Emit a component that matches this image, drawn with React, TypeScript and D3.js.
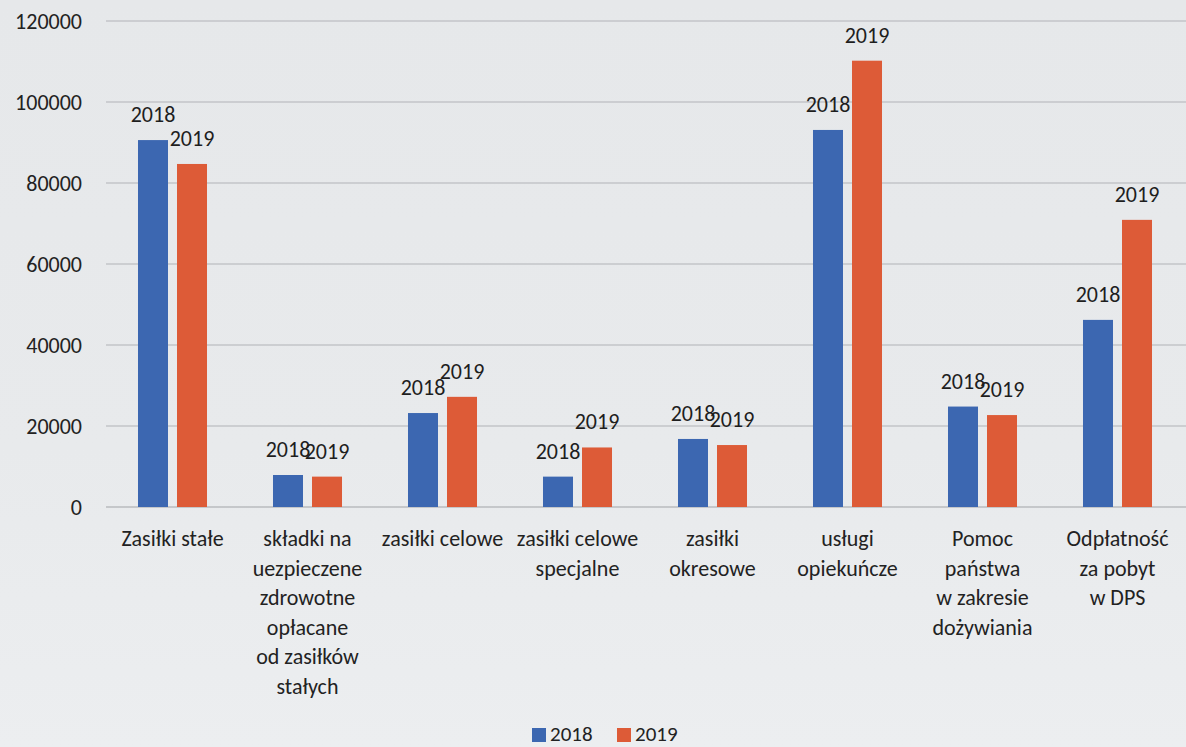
import React from "react";
import * as d3 from "d3";

// Kategorie (osie X), linie podpisów łamane jak w oryginale
const categories = [
  "Zasiłki stałe",
  "składki na uezpieczene",
  "zasiłki celowe",
  "zasiłki celowe specjalne",
  "zasiłki okresowe",
  "usługi opiekuńcze",
  "Pomoc państwa",
  "Odpłatność za pobyt",
];
const categoryLines = [
  ["Zasiłki stałe"],
  ["składki na", "uezpieczene", "zdrowotne", "opłacane", "od zasiłków", "stałych"],
  ["zasiłki celowe"],
  ["zasiłki celowe", "specjalne"],
  ["zasiłki", "okresowe"],
  ["usługi", "opiekuńcze"],
  ["Pomoc", "państwa", "w zakresie", "dożywiania"],
  ["Odpłatność", "za pobyt", "w DPS"],
];
const series = ["2018", "2019"];
const values2018 = [90600, 7900, 23200, 7500, 16800, 93100, 24800, 46200];
const values2019 = [84700, 7500, 27200, 14700, 15300, 110200, 22700, 70900];
const yTicks = [0, 20000, 40000, 60000, 80000, 100000, 120000];

const App: React.FC = () => {
  const width = 1186;
  const height = 747;
  const font = "Carlito, Lato, 'Liberation Sans', sans-serif";
  const fs = 22;

  const x0 = d3.scaleBand<string>()
    .domain(categories)
    .range([105, 1185])
    .padding(0);

  const x1 = d3.scaleBand<string>()
    .domain(series)
    .range([0, x0.bandwidth()])
    .paddingInner(0.2308)
    .paddingOuter(0.846);

  const y = d3.scaleLinear()
    .domain([0, 120000])
    .range([507, 21]);

  const color = d3.scaleOrdinal<string>()
    .domain(series)
    .range(["#3c67b1", "#dd5b37"]);

  const valuesFor = (s: string) => (s === "2018" ? values2018 : values2019);

  return (
    <svg
      width={width}
      height={height}
      style={{ position: "absolute", left: 0, top: 0 }}
      fontFamily={font}
    >
      <defs>
        <linearGradient id="bg" x1="0" y1="0" x2="0" y2="1">
          <stop offset="0%" stopColor="#e6e8ea" />
          <stop offset="60%" stopColor="#e8eaec" />
          <stop offset="100%" stopColor="#eceef0" />
        </linearGradient>
      </defs>
      <rect x={0} y={0} width={width} height={height} fill="url(#bg)" />

      {/* Siatka i oś Y */}
      {yTicks.map((t) => (
        <g key={t}>
          <line
            x1={106}
            x2={1186}
            y1={y(t)}
            y2={y(t)}
            stroke={t === 0 ? "#b9bbbe" : "#c3c5c8"}
            strokeWidth={1.5}
          />
          <text
            x={82}
            y={y(t)}
            dy="0.35em"
            textAnchor="end"
            fontSize={fs}
            fill="#222"
          >
            {t}
          </text>
        </g>
      ))}

      {/* Słupki i etykiety danych */}
      {categories.map((c, i) => (
        <g key={c} transform={`translate(${x0(c) ?? 0},0)`}>
          {series.map((s) => {
            const v = valuesFor(s)[i];
            const bx = x1(s) ?? 0;
            return (
              <g key={s}>
                <rect
                  x={bx}
                  y={y(v)}
                  width={x1.bandwidth()}
                  height={y(0) - y(v)}
                  fill={color(s)}
                />
                <text
                  x={bx + x1.bandwidth() / 2}
                  y={y(v) - 18}
                  textAnchor="middle"
                  fontSize={fs}
                  fill="#1e1e1e"
                >
                  {s}
                </text>
              </g>
            );
          })}
        </g>
      ))}

      {/* Podpisy kategorii */}
      {categories.map((c, i) => (
        <text
          key={c}
          x={(x0(c) ?? 0) + x0.bandwidth() / 2}
          y={545}
          textAnchor="middle"
          fontSize={fs}
          fill="#222"
        >
          {categoryLines[i].map((line, j) => (
            <tspan key={j} x={(x0(c) ?? 0) + x0.bandwidth() / 2} y={546 + j * 29.5}>
              {line}
            </tspan>
          ))}
        </text>
      ))}

      {/* Legenda */}
      <g transform="translate(532,727)">
        {series.map((s, i) => (
          <g key={s} transform={`translate(${i * 85},0)`}>
            <rect x={0} y={1} width={14} height={14} fill={color(s)} />
            <text x={18} y={14} fontSize={21} fill="#222">
              {s}
            </text>
          </g>
        ))}
      </g>
    </svg>
  );
};

export default App;
